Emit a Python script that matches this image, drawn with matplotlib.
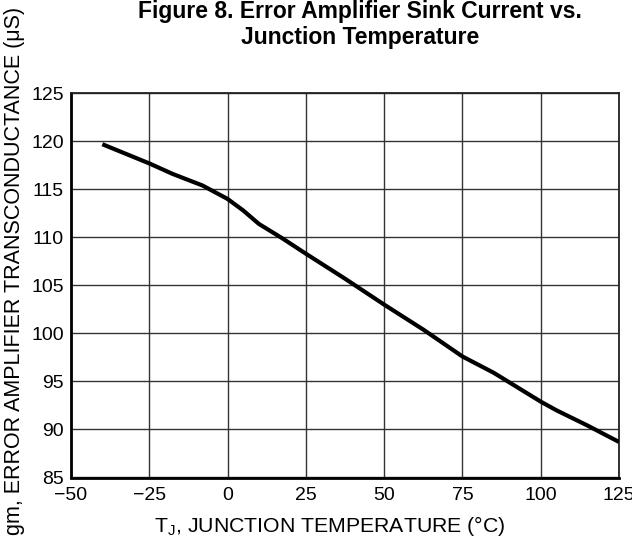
import matplotlib
matplotlib.use("Agg")
import matplotlib.pyplot as plt

plt.rcParams['font.family'] = ['Liberation Sans', 'DejaVu Sans']

temp_c = [-40, -25, -17.5, -8, 0, 5, 10, 17.5, 25, 37.5, 50, 62.5, 75, 85, 100, 105, 115, 125]
gm_us = [119.7, 117.7, 116.6, 115.4, 114.0, 112.8, 111.4, 109.9, 108.3, 105.7, 103.0, 100.4, 97.6, 95.9, 92.9, 92.0, 90.4, 88.7]
x_ticks = [-50, -25, 0, 25, 50, 75, 100, 125]
x_tick_labels = ['\u221250', '\u221225', '0', '25', '50', '75', '100', '125']
y_ticks = [85, 90, 95, 100, 105, 110, 115, 120, 125]

W, H = 632, 550
fig = plt.figure(figsize=(W / 100, H / 100), dpi=100)
left, right, top, bottom = 71, 619, 93.3, 477.5
ax = fig.add_axes([left / W, 1 - bottom / H, (right - left) / W, (bottom - top) / H])

ax.plot(temp_c, gm_us, color='black', lw=3.0, solid_capstyle='butt', zorder=3)
ax.set_xlim(-50, 125)
ax.set_ylim(85, 125)
ax.set_xticks(x_ticks)
ax.set_xticklabels(x_tick_labels)
ax.set_yticks(y_ticks)
ax.grid(True, color='#333333', lw=1.0)
ax.tick_params(length=0, labelsize=14)
ax.tick_params(axis='y', pad=5)
ax.tick_params(axis='x', pad=7)
for lab in ax.get_xticklabels():
    lab.set_clip_on(False)

for side in ['left', 'bottom']:
    ax.spines[side].set_linewidth(2.0)
    ax.spines[side].set_color('black')
for side in ['top', 'right']:
    ax.spines[side].set_linewidth(1.3)
    ax.spines[side].set_color('#222222')

fig.text(360 / W, 1 - 0 / H, 'Figure 8. Error Amplifier Sink Current vs.\nJunction Temperature',
         ha='center', va='top', fontsize=16.5, fontweight='bold', linespacing=1.15)
fig.text(330 / W, 1 - 526 / H, 'T$_\\mathregular{J}$, JUNCTION TEMPERATURE (\u00b0C)',
         ha='center', va='center', fontsize=15.3)
fig.text(15 / W, 1 - 271 / H, 'gm, ERROR AMPLIFIER TRANSCONDUCTANCE (\u03bcS)',
         ha='center', va='center', rotation=90, fontsize=15.5)

fig.savefig('out.png', dpi=100)
